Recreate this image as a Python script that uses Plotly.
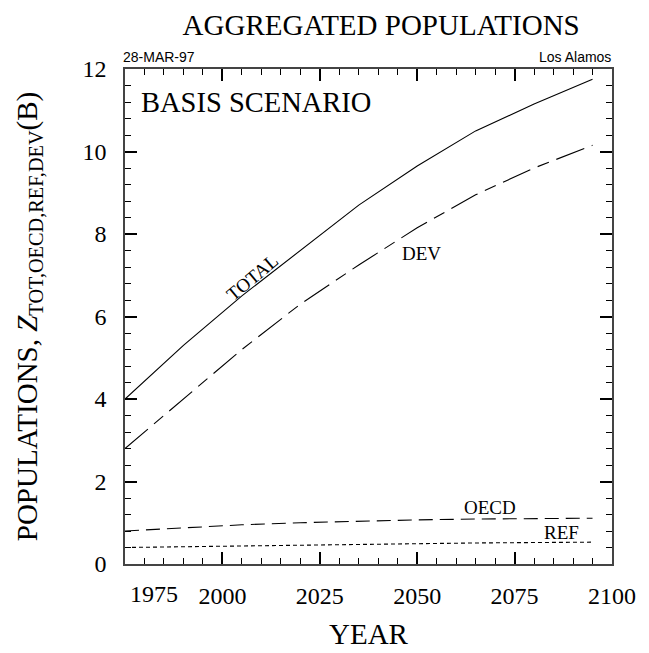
import plotly.graph_objects as go

years = [1975, 1990, 2005, 2020, 2035, 2050, 2065, 2080, 2095]
total = [4.0, 5.3, 6.5, 7.6, 8.7, 9.65, 10.5, 11.15, 11.75]
dev = [2.8, 4.0, 5.2, 6.3, 7.25, 8.15, 8.95, 9.6, 10.15]
oecd = [0.8, 0.88, 0.95, 1.0, 1.04, 1.07, 1.09, 1.1, 1.11]
ref = [0.4, 0.42, 0.44, 0.46, 0.48, 0.5, 0.51, 0.52, 0.53]

x_tickvals = [2000, 2025, 2050, 2075, 2100]
x_ticktext = ["2000", "2025", "2050", "2075", "2100"]
first_year_label = "1975"
y_tickvals = [0, 2, 4, 6, 8, 10, 12]
y_ticktext = ["0", "2", "4", "6", "8", "10", "12"]

SERIF = "Liberation Serif"
X_RANGE = [1975, 2100]
Y_RANGE = [0, 12]
W, H = 649, 653
MARGIN = dict(l=117, r=45, t=61, b=97)

fig = go.Figure()
fig.add_trace(go.Scatter(x=years, y=total, mode="lines", name="TOTAL",
                         line=dict(color="black", width=1.1)))
fig.add_trace(go.Scatter(x=years, y=dev, mode="lines", name="DEV",
                         line=dict(color="black", width=1.1, dash="30px,8px,12px,8px")))
fig.add_trace(go.Scatter(x=years, y=oecd, mode="lines", name="OECD",
                         line=dict(color="black", width=1.1, dash="14px,7px")))
fig.add_trace(go.Scatter(x=years, y=ref, mode="lines", name="REF",
                         line=dict(color="black", width=1.1, dash="4px,3px")))

tickfont = dict(family=SERIF, size=24, color="black")
axis_common = dict(showline=True, linecolor="#444", linewidth=1.5, mirror="allticks",
                   ticks="inside", ticklen=12, tickwidth=1.6, tickcolor="black",
                   showgrid=False, zeroline=False, tickfont=tickfont)

fig.update_layout(
    xaxis=dict(range=X_RANGE, tickmode="array", tickvals=x_tickvals, ticktext=x_ticktext,
               minor=dict(tickmode="linear", tick0=1975, dtick=5, ticks="inside", ticklen=6,
                          tickwidth=1.3, tickcolor="black", showgrid=False),
               ticklabelstandoff=9,
               title=dict(text="YEAR", font=dict(family=SERIF, size=29, color="black"), standoff=16),
               **axis_common),
    yaxis=dict(range=Y_RANGE, tickmode="array", tickvals=y_tickvals,
               ticktext=[t + "  " for t in y_ticktext],
               minor=dict(tickmode="linear", tick0=0, dtick=0.4, ticks="inside", ticklen=6,
                          tickwidth=1.3, tickcolor="black", showgrid=False),
               title=dict(text="POPULATIONS, <i>Z</i><sub>TOT,OECD,REF,DEV</sub>(B)",
                          font=dict(family=SERIF, size=29, color="black"), standoff=36),
               **axis_common),
)

ann_font = dict(family=SERIF, size=19, color="black")
fig.add_annotation(x=1975, y=0, xref="x", yref="y", text=first_year_label, showarrow=False,
                   xshift=29, yshift=-15, yanchor="top", font=dict(family=SERIF, size=24, color="black"))
fig.add_annotation(x=1978.5, y=11.2, text="BASIS SCENARIO", showarrow=False, xanchor="left",
                   font=dict(family=SERIF, size=28.5, color="black"))
fig.add_annotation(x=2007.6, y=6.95, text="TOTAL", showarrow=False, textangle=-40, font=ann_font)
fig.add_annotation(x=2051.2, y=7.52, text="DEV", showarrow=False, font=ann_font)
fig.add_annotation(x=2068.6, y=1.38, text="OECD", showarrow=False, font=ann_font)
fig.add_annotation(x=2087.0, y=0.76, text="REF", showarrow=False, font=ann_font)
fig.add_annotation(x=-0.008, y=1, xref="paper", yref="paper", text="28-MAR-97", showarrow=False,
                   xanchor="left", yanchor="bottom", yshift=2,
                   font=dict(family="Liberation Sans", size=14, color="black"))
fig.add_annotation(x=1.003, y=1, xref="paper", yref="paper", text="Los Alamos", showarrow=False,
                   xanchor="right", yanchor="bottom", yshift=2,
                   font=dict(family="Liberation Sans", size=14, color="black"))

fig.update_layout(
    width=W, height=H,
    margin=MARGIN,
    paper_bgcolor="white", plot_bgcolor="white",
    showlegend=False,
    title=dict(text="AGGREGATED POPULATIONS", x=0.575, xanchor="center", y=0.99, yanchor="top",
               font=dict(family=SERIF, size=29, color="black")),
)

fig.write_html("out.html")
